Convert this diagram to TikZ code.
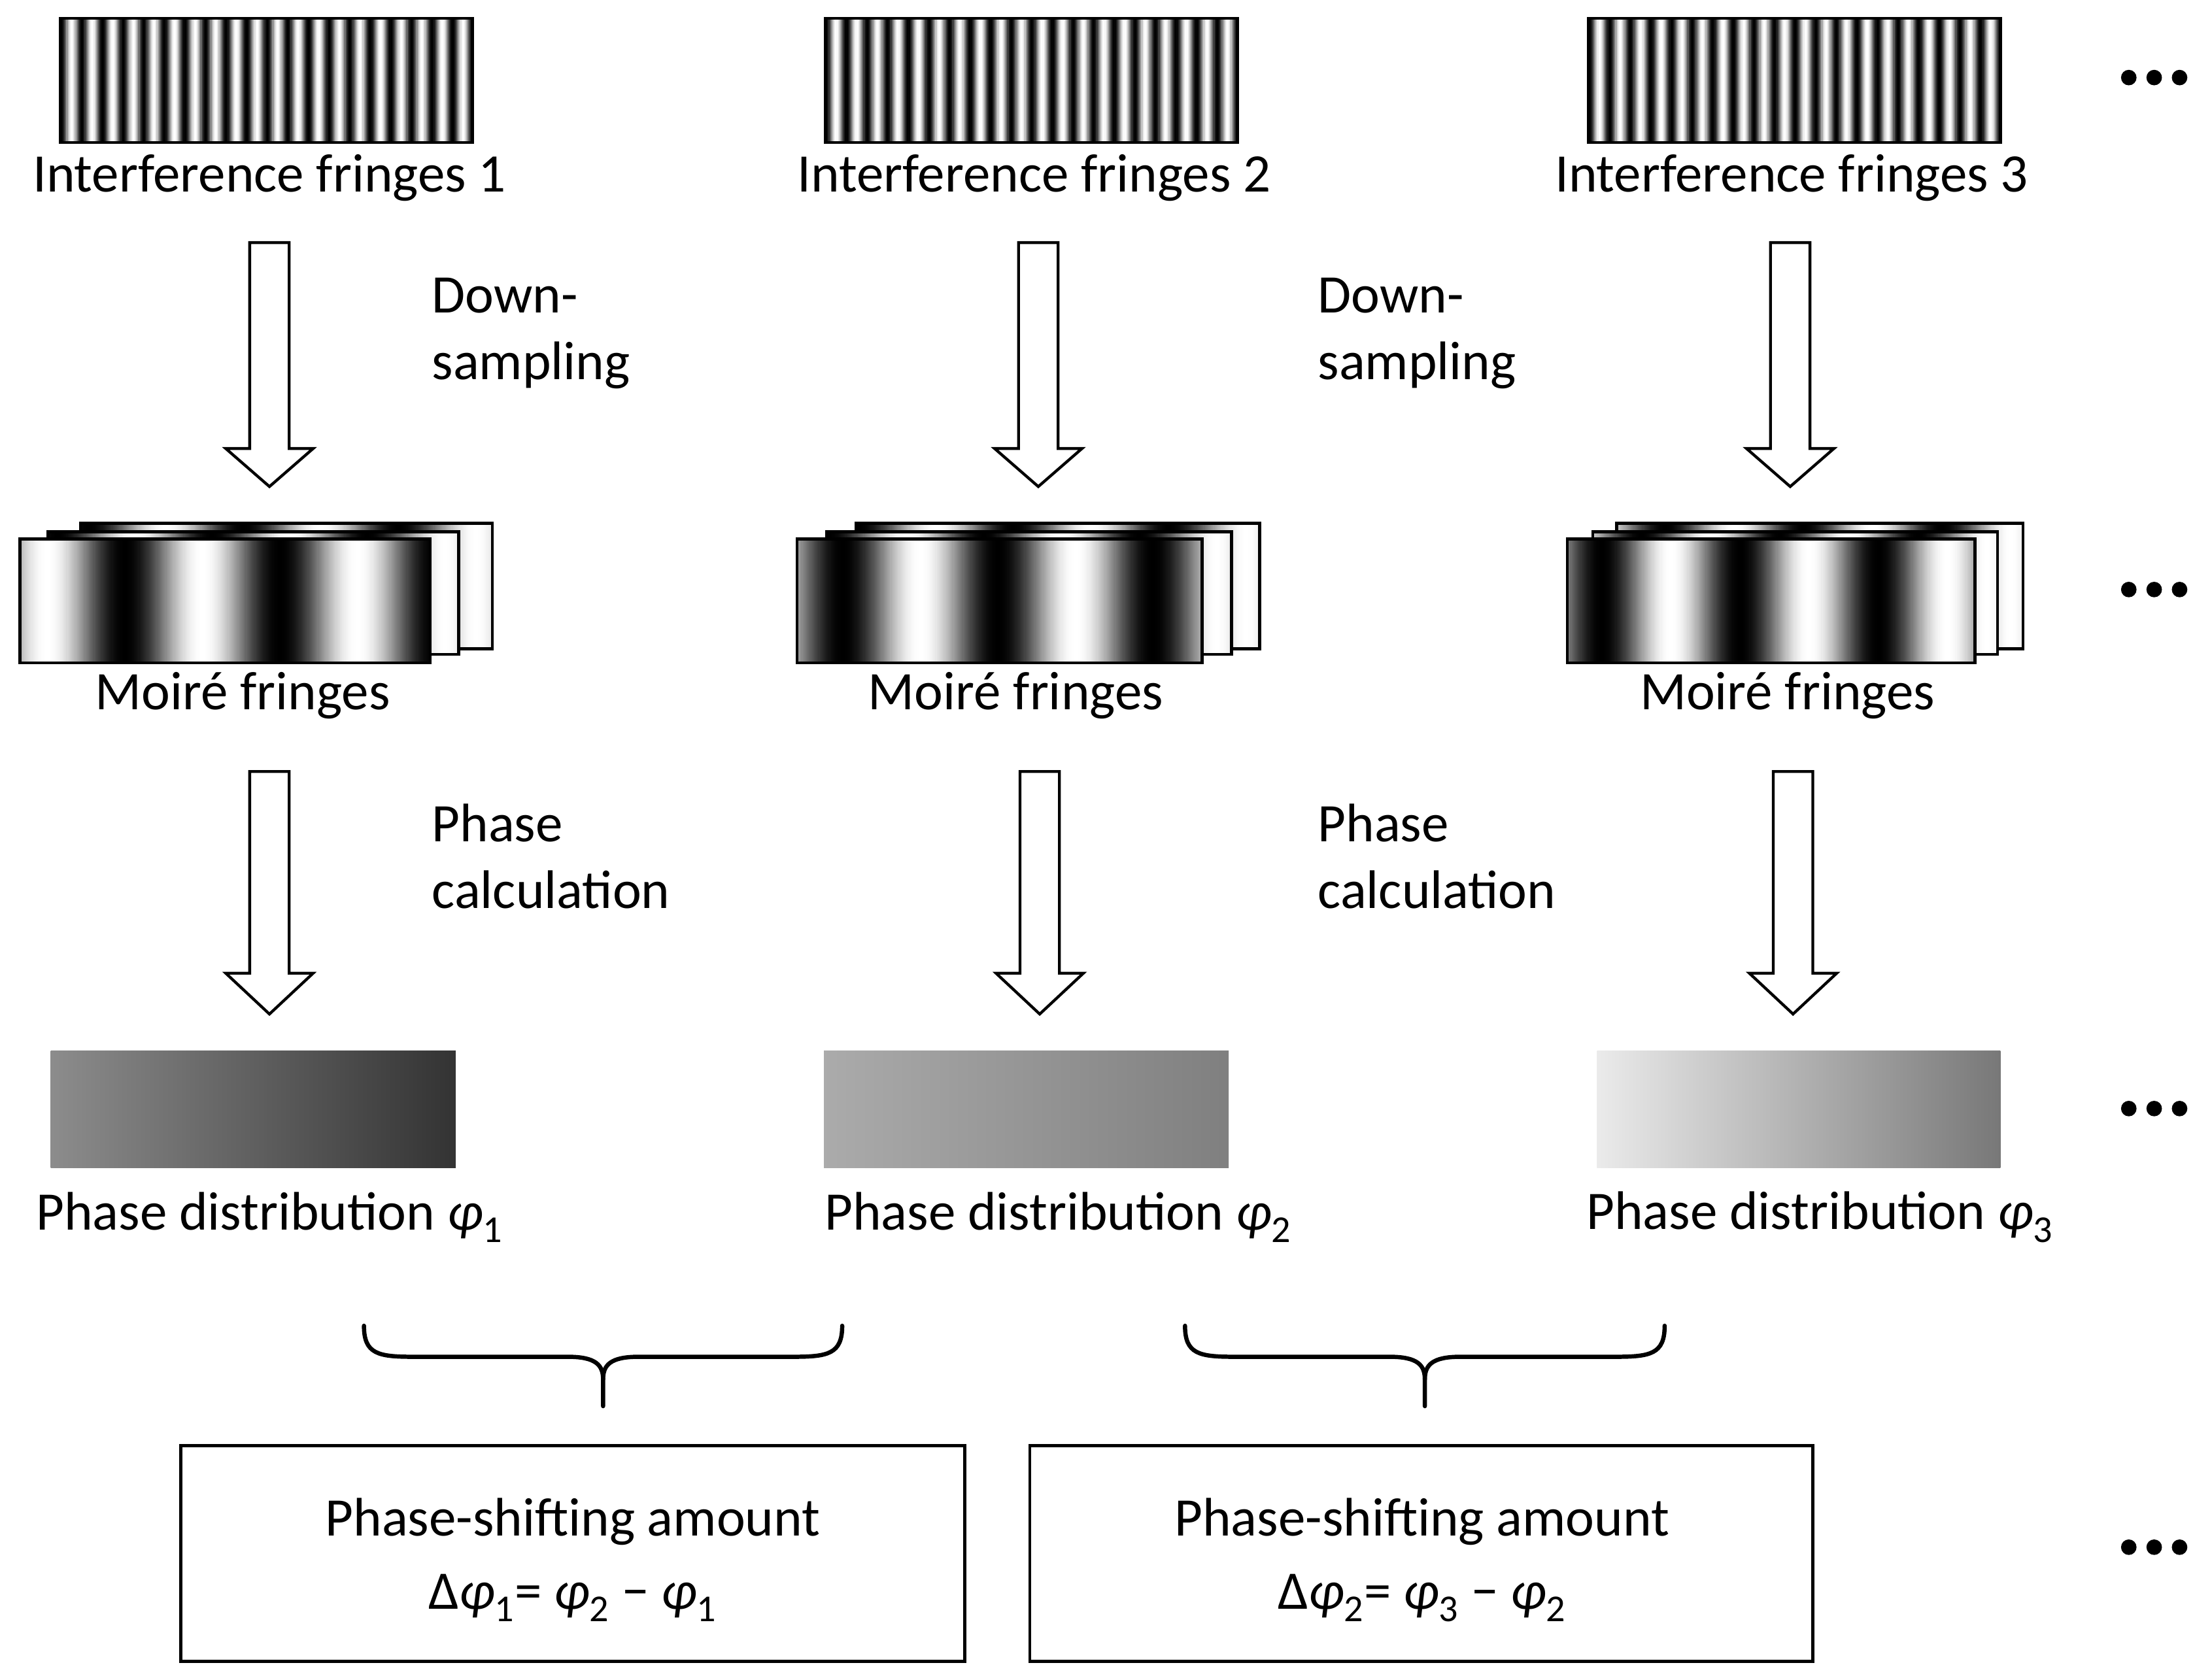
\documentclass[tikz,border=0pt]{standalone}
\usepackage{fontspec}
\setmainfont{Carlito}
\begin{document}
\newcommand{\mystripes}[6]{% x0 x1 y0 y1 period blackpos
  \foreach \xx in {#1,...,#2}{%
    \pgfmathsetmacro{\tt}{(\xx-#6)/#5}%
    \pgfmathsetmacro{\ff}{\tt-floor(\tt)}%
    \pgfmathsetmacro{\ww}{50-50*cos(360*\ff)}%
    \fill[white!\ww!black] (\xx,#3) rectangle ({min(\xx+1.3,#2)},#4);}%
  \draw[line width=2.2] (#1,#3) rectangle (#2,#4);}
\newcommand{\myarrow}[4]{% x top base tip
  \draw[line width=2,fill=white] (#1-14,#2)--(#1+14,#2)--(#1+14,#3)--(#1+31,#3)--(#1,#4)--(#1-31,#3)--(#1-14,#3)--cycle;}
\newcommand{\mydots}[2]{\foreach \k in {0,1,2}{\fill (#1+\k*18,#2) circle (5.5);}}
\newcommand{\mybrace}[3]{% x0 x1 y
  \pgfmathsetmacro{\mm}{(#1+#2)/2}%
  \draw[line width=3,line cap=round] (#1,#3) .. controls (#1,#3+20) and (#1+10,#3+22) .. (#1+35,#3+22) -- (\mm-25,#3+22) .. controls (\mm-5,#3+22) and (\mm,#3+28) .. (\mm,#3+38) -- (\mm,#3+57);
  \draw[line width=3,line cap=round] (#2,#3) .. controls (#2,#3+20) and (#2-10,#3+22) .. (#2-35,#3+22) -- (\mm+25,#3+22) .. controls (\mm+5,#3+22) and (\mm,#3+28) .. (\mm,#3+38);}
\newcommand{\myphi}[1]{\textit{φ}\textsubscript{#1}}
\begin{tikzpicture}[x=1pt,y=-1pt,lab/.style={font=\fontsize{38.5}{47}\selectfont,inner sep=0}]
\useasboundingbox (0,0) rectangle (1568,1191);
% interference fringes
\mystripes{43}{335}{13}{101}{14.6}{43}
\mystripes{585}{877}{13}{101}{14.6}{585}
\mystripes{1126}{1418}{13}{101}{14.6}{1126}
\node[lab] (i1) at (191,126) {Interference fringes 1};
\node[lab] (i2) at (733,126) {Interference fringes 2};
\node[lab] (i3) at (1270,126) {Interference fringes 3};
\mydots{1509}{55}
% arrows 1
\myarrow{191}{172}{318}{345}
\myarrow{736}{172}{318}{345}
\myarrow{1269}{172}{318}{345}
\node[lab,align=left,anchor=north west] (d1) at (306,197) {Down-\\sampling};
\node[lab,align=left,anchor=north west] (d2) at (934,197) {Down-\\sampling};
% moire
\mystripes{57}{349}{371}{460}{110}{282}
\mystripes{34}{325}{377}{464}{110}{260}
\mystripes{14}{305}{382}{470}{110}{88}
\mystripes{607}{893}{371}{460}{110}{828}
\mystripes{586}{873}{377}{464}{110}{807}
\mystripes{565}{852}{382}{470}{110}{597}
\mystripes{1146}{1434}{371}{460}{98}{1376}
\mystripes{1129}{1416}{377}{464}{98}{1359}
\mystripes{1111}{1400}{382}{470}{98}{1135}
\node[lab] (m1) at (172,493) {Moiré fringes};
\node[lab] (m2) at (720,493) {Moiré fringes};
\node[lab] (m3) at (1267,493) {Moiré fringes};
\mydots{1509}{418}
% arrows 2
\myarrow{191}{547}{690}{719}
\myarrow{737}{547}{690}{719}
\myarrow{1271}{547}{690}{719}
\node[lab,align=left,anchor=north west] (p1) at (306,570) {Phase\\calculation};
\node[lab,align=left,anchor=north west] (p2) at (934,570) {Phase\\calculation};
% phase distributions
\shade[left color=black!45,right color=black!80] (36,745) rectangle (323,828);
\shade[left color=black!33,right color=black!50] (584,745) rectangle (871,828);
\shade[left color=black!8,right color=black!53] (1132,745) rectangle (1418,828);
\node[lab] (f1) at (191,863) {Phase distribution \myphi{1}};
\node[lab] (f2) at (750,863) {Phase distribution \myphi{2}};
\node[lab] (f3) at (1290,863) {Phase distribution \myphi{3}};
\mydots{1509}{786}
% braces
\mybrace{258}{597}{940}
\mybrace{840}{1180}{940}
% boxes
\node[draw,line width=2.2,minimum width=556,minimum height=153,inner sep=0] (b1) at (406,1101.5) {};
\node[draw,line width=2.2,minimum width=555,minimum height=153,inner sep=0] (b2) at (1007.5,1101.5) {};
\node[lab] (t1a) at (406,1079) {Phase-shifting amount};
\node[lab] (t1b) at (406,1133) {Δ\myphi{1}= \myphi{2} − \myphi{1}};
\node[lab] (t2a) at (1008,1079) {Phase-shifting amount};
\node[lab] (t2b) at (1008,1133) {Δ\myphi{2}= \myphi{3} − \myphi{2}};
\mydots{1509}{1097}
\end{tikzpicture}
\end{document}
